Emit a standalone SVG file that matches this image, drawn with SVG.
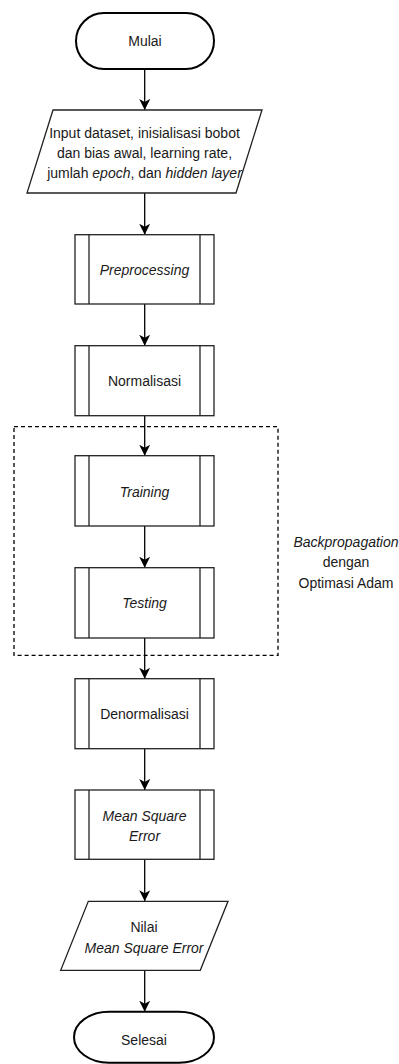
<svg xmlns="http://www.w3.org/2000/svg" width="399" height="1064" viewBox="0 0 399 1064">
<style>
text{font-family:"Liberation Sans",Arial,sans-serif;font-size:14px;fill:#1a1a1a;text-anchor:middle}
.it{font-style:italic}
.box{fill:#fff;stroke:#222;stroke-width:1.3}
.term{fill:#fff;stroke:#000;stroke-width:2}
.edge{fill:none;stroke:#000;stroke-width:1.3}
.group{fill:none;stroke:#000;stroke-width:1.3;stroke-dasharray:4 3}
</style>
<defs>
<marker id="arr" markerUnits="userSpaceOnUse" markerWidth="12" markerHeight="12" refX="11" refY="5.5" orient="auto">
<path d="M0,0 L11,5.5 L0,11 L3,5.5 z" fill="#000"/>
</marker>
</defs>
<rect class="group" x="14" y="426.7" width="264" height="228.6"/>
<g id="connectors">
<line class="edge" x1="144.7" y1="69" x2="144.7" y2="110" marker-end="url(#arr)"/>
<line class="edge" x1="144.7" y1="193" x2="144.7" y2="234.7" marker-end="url(#arr)"/>
<line class="edge" x1="144.7" y1="304" x2="144.7" y2="345.7" marker-end="url(#arr)"/>
<line class="edge" x1="144.7" y1="415.7" x2="144.7" y2="455.7" marker-end="url(#arr)"/>
<line class="edge" x1="144.7" y1="526" x2="144.7" y2="567.7" marker-end="url(#arr)"/>
<line class="edge" x1="144.7" y1="638" x2="144.7" y2="678.7" marker-end="url(#arr)"/>
<line class="edge" x1="144.7" y1="748.7" x2="144.7" y2="790" marker-end="url(#arr)"/>
<line class="edge" x1="144.7" y1="859.3" x2="144.7" y2="901.3" marker-end="url(#arr)"/>
<line class="edge" x1="144.7" y1="970.3" x2="144.7" y2="1011.7" marker-end="url(#arr)"/>
</g>
<g id="mulai">
<rect class="term" x="76" y="13" width="138" height="56" rx="28" ry="28"/>
<text x="145" y="46">Mulai</text>
</g>
<g id="input">
<polygon class="box" points="53,110 262,110 236,193 27,193"/>
<text x="144.5" y="138">Input dataset, inisialisasi bobot</text>
<text x="144.5" y="158">dan bias awal, learning rate,</text>
<text x="144.5" y="178">jumlah <tspan class="it">epoch</tspan>, dan <tspan class="it">hidden layer</tspan></text>
</g>
<g id="preprocessing">
<rect class="box" x="75" y="234.7" width="139" height="69.3"/>
<line class="box" x1="89" y1="234.7" x2="89" y2="304"/>
<line class="box" x1="200" y1="234.7" x2="200" y2="304"/>
<text class="it" x="144.5" y="275">Preprocessing</text>
</g>
<g id="normalisasi">
<rect class="box" x="75" y="345.7" width="139" height="70"/>
<line class="box" x1="89" y1="345.7" x2="89" y2="415.7"/>
<line class="box" x1="200" y1="345.7" x2="200" y2="415.7"/>
<text x="144.5" y="386">Normalisasi</text>
</g>
<g id="training">
<rect class="box" x="75" y="455.7" width="139" height="70.3"/>
<line class="box" x1="89" y1="455.7" x2="89" y2="526"/>
<line class="box" x1="200" y1="455.7" x2="200" y2="526"/>
<text class="it" x="144.5" y="497">Training</text>
</g>
<g id="testing">
<rect class="box" x="75" y="567.7" width="139" height="70.3"/>
<line class="box" x1="89" y1="567.7" x2="89" y2="638"/>
<line class="box" x1="200" y1="567.7" x2="200" y2="638"/>
<text class="it" x="144.5" y="608">Testing</text>
</g>
<g id="label-backprop">
<text class="it" x="346" y="547">Backpropagation</text>
<text x="346" y="567">dengan</text>
<text x="346" y="588">Optimasi Adam</text>
</g>
<g id="denormalisasi">
<rect class="box" x="75" y="678.7" width="139" height="70"/>
<line class="box" x1="89" y1="678.7" x2="89" y2="748.7"/>
<line class="box" x1="200" y1="678.7" x2="200" y2="748.7"/>
<text x="144.5" y="719">Denormalisasi</text>
</g>
<g id="mse">
<rect class="box" x="75" y="790" width="139" height="69.3"/>
<line class="box" x1="89" y1="790" x2="89" y2="859.3"/>
<line class="box" x1="200" y1="790" x2="200" y2="859.3"/>
<text class="it" x="144.5" y="821">Mean Square</text>
<text class="it" x="144.5" y="841">Error</text>
</g>
<g id="nilai-mse">
<polygon class="box" points="88.3,901.3 228,901.3 200.3,970.3 60.7,970.3"/>
<text x="144" y="932">Nilai</text>
<text class="it" x="144" y="953">Mean Square Error</text>
</g>
<g id="selesai">
<rect class="term" x="74" y="1011.7" width="140" height="51" rx="35" ry="25.5"/>
<text x="144" y="1045">Selesai</text>
</g>
</svg>
